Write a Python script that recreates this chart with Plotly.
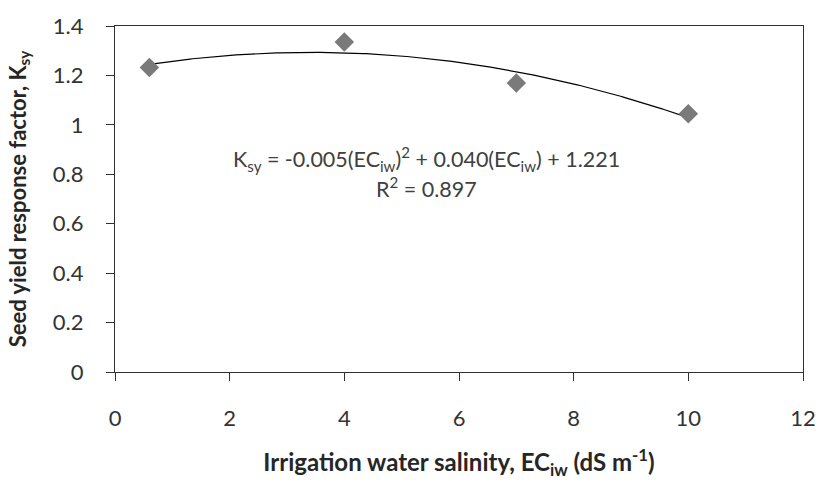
import numpy as np
import plotly.graph_objects as go

# Data
ec_iw = [0.6, 4.0, 7.0, 10.0]
k_sy = [1.232, 1.335, 1.169, 1.045]

x_ticks = [0, 2, 4, 6, 8, 10, 12]
y_ticks = [0, 0.2, 0.4, 0.6, 0.8, 1.0, 1.2, 1.4]
y_tick_text = ["0", "0.2", "0.4", "0.6", "0.8", "1", "1.2", "1.4"]

equation_text = "K<sub>sy</sub> = -0.005(EC<sub>iw</sub>)<sup>2</sup> + 0.040(EC<sub>iw</sub>) + 1.221"
r2_text = "R<sup>2</sup> = 0.897"

# Polynomial (order 2) trendline fitted on the data
coef = np.polyfit(ec_iw, k_sy, 2)
xs = np.linspace(min(ec_iw), max(ec_iw), 200)
ys = np.polyval(coef, xs)

FONT = "Lato, 'Open Sans', sans-serif"

fig = go.Figure()
fig.add_trace(go.Scatter(x=xs, y=ys, mode="lines",
                         line=dict(color="#000000", width=1.2),
                         hoverinfo="skip", showlegend=False))
fig.add_trace(go.Scatter(x=ec_iw, y=k_sy, mode="markers",
                         marker=dict(symbol="diamond", size=15, color="#7a7a7a",
                                     line=dict(width=0)),
                         showlegend=False))

fig.add_annotation(x=5.43, y=0.862, text=equation_text, showarrow=False,
                   font=dict(family=FONT, size=21.5, color="#404040"),
                   xanchor="center", yanchor="middle")
fig.add_annotation(x=5.43, y=0.748, text=r2_text, showarrow=False,
                   font=dict(family=FONT, size=21.5, color="#404040"),
                   xanchor="center", yanchor="middle")

axis_common = dict(showgrid=False, zeroline=False, showline=True,
                   linecolor="#303030", linewidth=1.3, mirror=True,
                   ticks="outside", ticklen=8, tickwidth=1.3, tickcolor="#303030",
                   ticklabeloverflow="allow",
                   tickfont=dict(family=FONT, size=22, color="#333333"))

fig.update_xaxes(range=[0, 12], tickvals=x_ticks, ticklabelstandoff=18,
                 title=dict(text="<b>Irrigation water salinity, EC<sub>iw</sub> (dS m<sup>-1</sup>)</b>",
                            font=dict(family=FONT, size=24, color="#262626"), standoff=24),
                 **axis_common)
fig.update_yaxes(range=[0, 1.4], tickvals=y_ticks, ticktext=y_tick_text, ticklabelstandoff=18,
                 title=dict(text="<b>Seed yield response factor, K<sub>sy</sub></b>",
                            font=dict(family=FONT, size=22, color="#262626"), standoff=20),
                 **axis_common)

fig.update_layout(width=828, height=483,
                  margin=dict(l=115, r=17, t=18, b=111),
                  plot_bgcolor="white", paper_bgcolor="white")

# Remove the default page margin so the figure sits at the window's top-left corner.
fig.write_html("out.html",
               config={"displayModeBar": False},
               post_script="document.body.style.margin='0';document.body.style.overflow='hidden';")
